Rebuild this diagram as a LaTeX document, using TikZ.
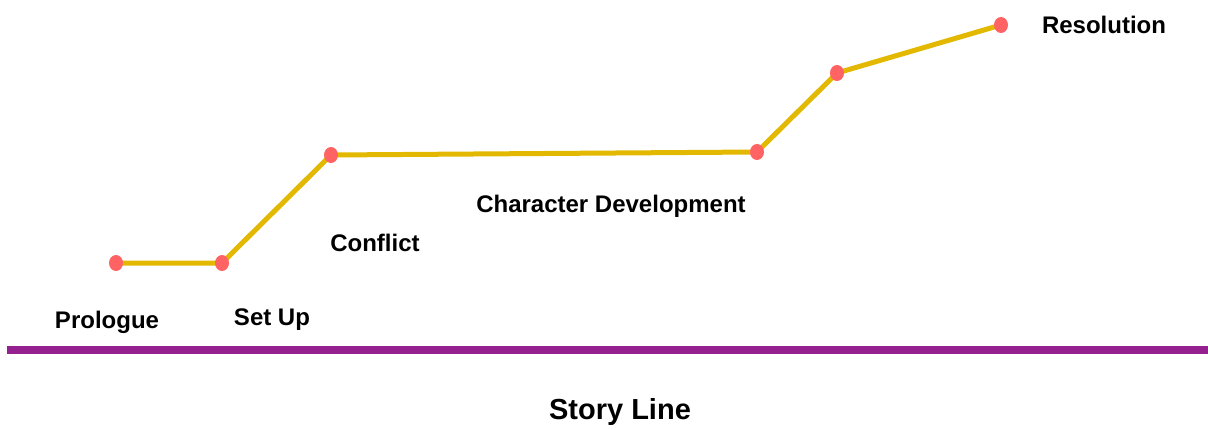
\documentclass[tikz,border=0pt]{standalone}
\usepackage{fontspec}
\setmainfont{Liberation Sans}
\definecolor{curve}{HTML}{E3B800}
\definecolor{dotc}{HTML}{FF6363}
\definecolor{base}{HTML}{95208F}
\tikzset{
  dot/.style={ellipse, fill=dotc, minimum width=14pt, minimum height=16pt, inner sep=0pt},
  lbl/.style={font=\bfseries\fontsize{24}{27}\selectfont, text=black, inner sep=0pt},
  seg/.style={draw=curve, line width=5pt},
}
\usetikzlibrary{shapes.geometric}
\begin{document}
\begin{tikzpicture}[x=1pt,y=-1pt]
\useasboundingbox (0,0) rectangle (1208,429);
\coordinate (b1) at (7,350);
\coordinate (b2) at (1208,350);
\draw[base, line width=8pt] (b1) -- (b2);
\coordinate (p1) at (116,263);
\coordinate (p2) at (222,263);
\coordinate (p3) at (331,155);
\coordinate (p4) at (757,152);
\coordinate (p5) at (837,73);
\coordinate (p6) at (1001,25);
\draw[seg] (p1) -- (p2) -- (p3) -- (p4) -- (p5) -- (p6);
\foreach \p in {p1,p2,p3,p4,p5,p6} \node[dot] at (\p) {};
\node[lbl] (t1) at (107,322) {Prologue};
\node[lbl] (t2) at (272,320) {Set Up};
\node[lbl] (t3) at (375,243) {Conflict};
\node[lbl] (t4) at (611,206) {Character Development};
\node[lbl] (t5) at (1104,25) {Resolution};
\node[lbl, font=\bfseries\fontsize{29}{32}\selectfont] (t6) at (620,412) {Story Line};
\end{tikzpicture}
\end{document}
